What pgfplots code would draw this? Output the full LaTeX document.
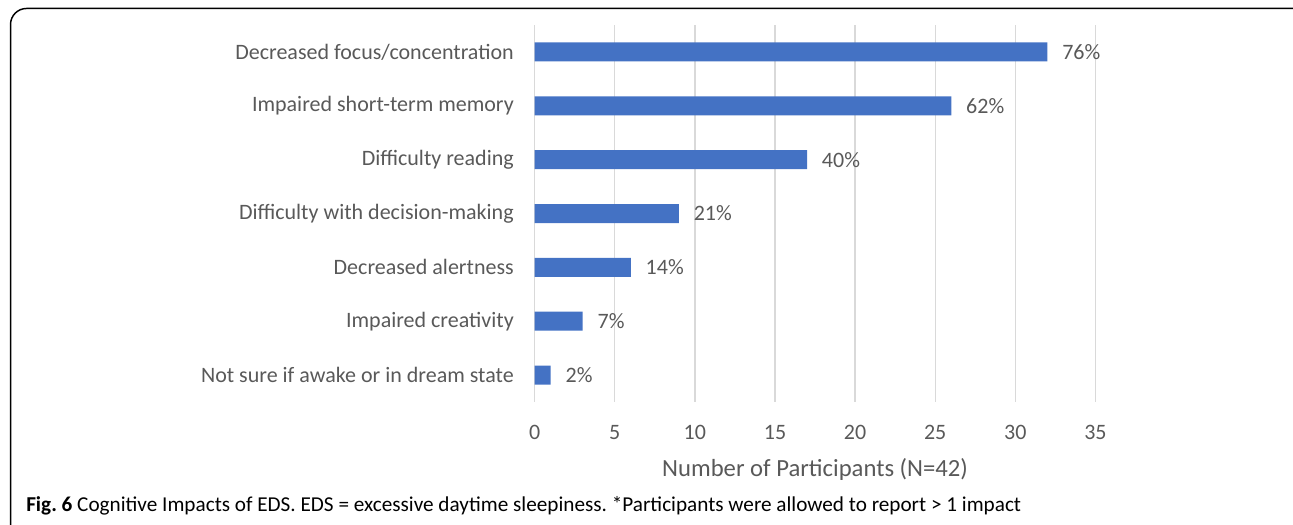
\documentclass[border=0pt]{standalone}
\usepackage{fontspec}
\setmainfont{Carlito}
\usepackage{pgfplots}
\pgfplotsset{compat=1.18}
\definecolor{barblue}{HTML}{4472C4}
\definecolor{txtgray}{HTML}{595959}
\definecolor{gridgray}{HTML}{D9D9D9}
\frenchspacing
\begin{document}
\begin{tikzpicture}
\useasboundingbox (0,0) rectangle (969.75pt,393.75pt);
\draw[line width=1.1pt, rounded corners=12pt] (7.9pt,387.4pt) rectangle (985pt,-12pt);
\begin{axis}[
  at={(401pt,92.25pt)}, anchor=south west,
  scale only axis, width=420.6pt, height=282.75pt,
  xmin=0, xmax=35, xtick={0,5,...,35},
  ymin=-0.5, ymax=6.5, y dir=reverse,
  ytick={0,...,6},
  yticklabels={Decreased focus/concentration, Impaired short-term memory, Difficulty reading, Difficulty with decision-making, Decreased alertness, Impaired creativity, Not sure if awake or in dream state},
  axis line style={draw=none},
  major tick length=0pt,
  xmajorgrids, major grid style={gridgray, line width=1pt},
  /pgf/number format/assume math mode=true,
  tick label style={font=\fontsize{16.5}{19}\selectfont, text=txtgray},
  yticklabel style={anchor=east, inner sep=0pt, xshift=-15.5pt},
  xticklabel style={anchor=north, inner sep=0pt, yshift=-17pt},
  xlabel={Number of Participants (N=42)},
  xlabel style={font=\fontsize{18.5}{21}\selectfont, text=txtgray, anchor=north, inner sep=0pt, at={(axis description cs:0.5,0)}, yshift=-42pt},
  clip=false,
]
\addplot[xbar, bar width=14.25pt, fill=barblue, draw=none,
  point meta=explicit symbolic,
  nodes near coords, nodes near coords style={font=\fontsize{16.5}{19}\selectfont, text=txtgray, anchor=west, inner sep=0pt, xshift=11pt}]
  coordinates {(32,0) [76\%] (26,1) [62\%] (17,2) [40\%] (9,3) [21\%] (6,4) [14\%] (3,5) [7\%] (1,6) [2\%]};
\end{axis}
\node[anchor=base west, inner sep=0pt, font=\fontsize{15.9}{18}\selectfont] at (19.5pt,9.75pt) {\textbf{Fig. 6} Cognitive Impacts of EDS. EDS = excessive daytime sleepiness. *Participants were allowed to report > 1 impact};
\end{tikzpicture}
\end{document}
